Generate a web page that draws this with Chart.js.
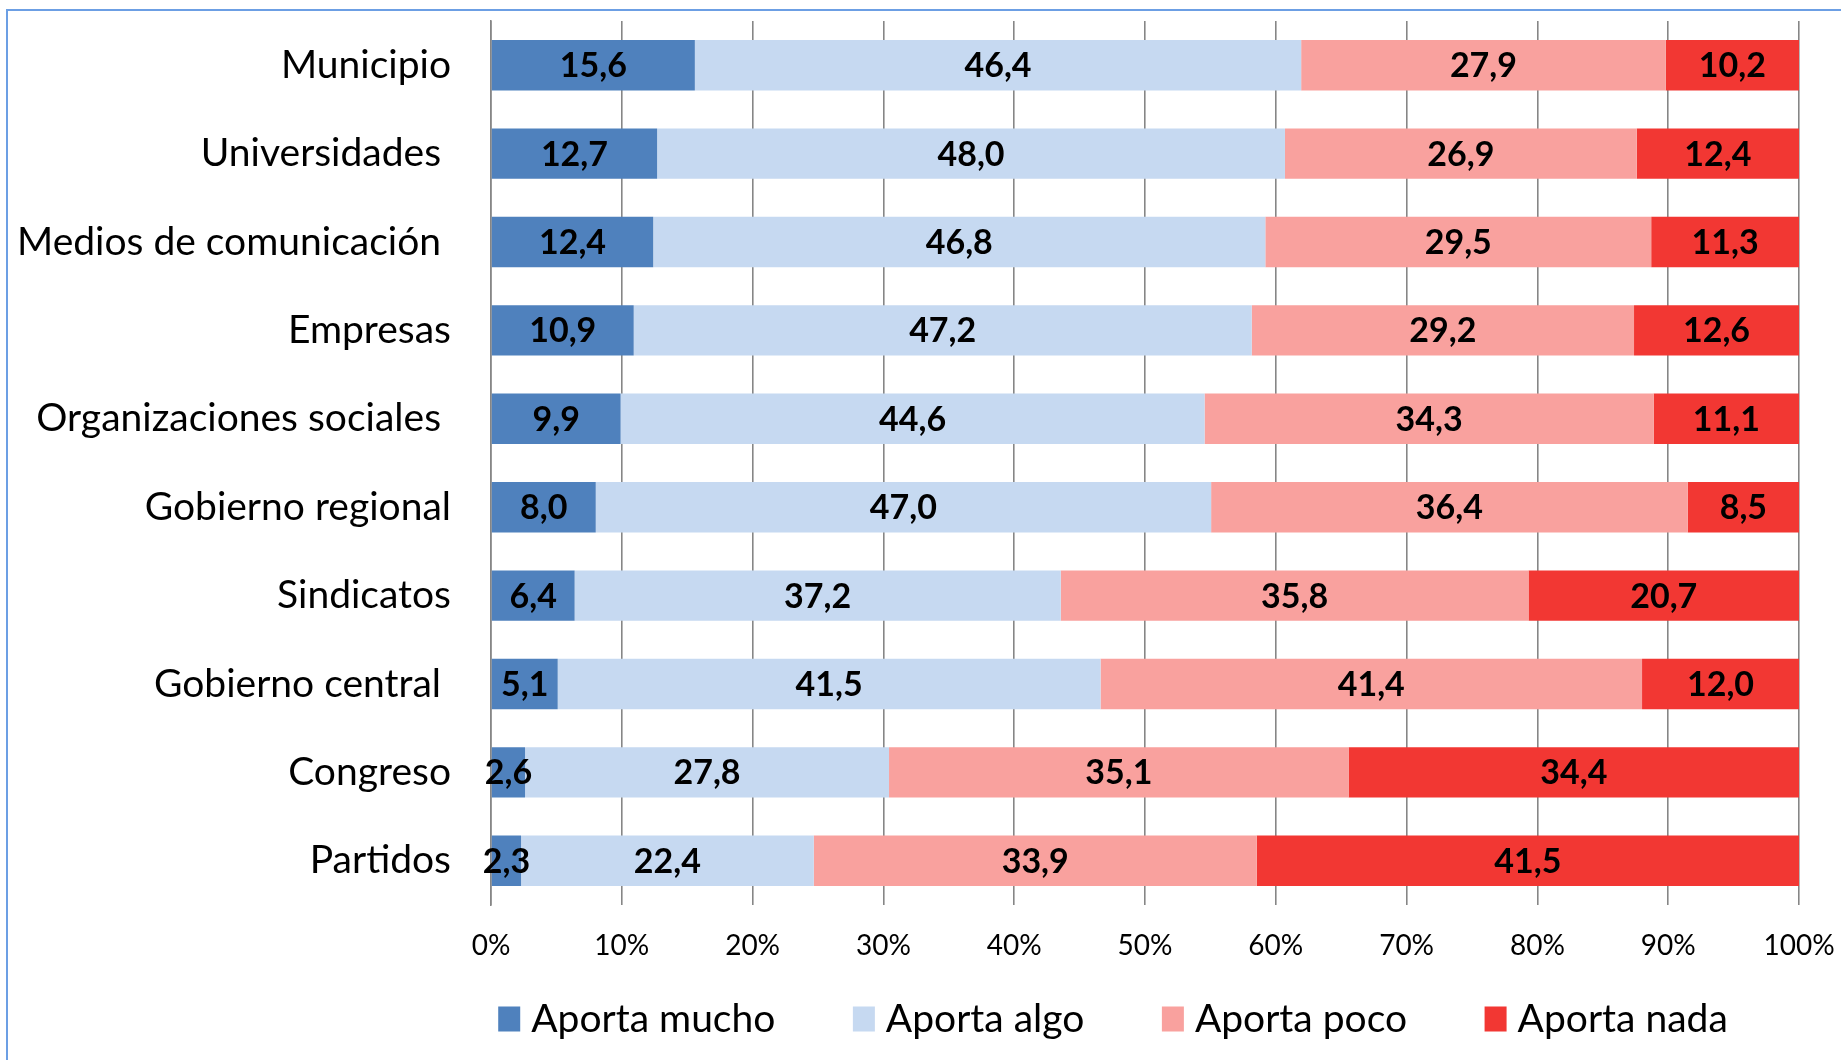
<!DOCTYPE html>
<html>
<head>
<meta charset="utf-8">
<script src="https://cdn.jsdelivr.net/npm/chart.js@4.4.1/dist/chart.umd.min.js"></script>
<style>
  html, body { margin: 0; padding: 0; background: #ffffff; }
  #wrap { position: relative; width: 1841px; height: 1060px; overflow: hidden; }
  #frame { position: absolute; left: 6px; top: 9px; width: 2000px; height: 2000px;
           border-left: 2px solid #6C9FE4; border-top: 2px solid #6C9FE4; box-sizing: border-box; }
  canvas { position: absolute; left: 0; top: 0; }
</style>
</head>
<body>
<div id="wrap">
  <div id="frame"></div>
  <canvas id="c" width="1841" height="1060"></canvas>
</div>
<script>
// ---- data ----
const categories = ['Municipio', 'Universidades ', 'Medios de comunicación ', 'Empresas',
  'Organizaciones sociales ', 'Gobierno regional', 'Sindicatos', 'Gobierno central ',
  'Congreso', 'Partidos'];
const seriesNames = ['Aporta mucho', 'Aporta algo', 'Aporta poco', 'Aporta nada'];
const aportaMucho = [15.6, 12.7, 12.4, 10.9, 9.9, 8.0, 6.4, 5.1, 2.6, 2.3];
const aportaAlgo  = [46.4, 48.0, 46.8, 47.2, 44.6, 47.0, 37.2, 41.5, 27.8, 22.4];
const aportaPoco  = [27.9, 26.9, 29.5, 29.2, 34.3, 36.4, 35.8, 41.4, 35.1, 33.9];
const aportaNada  = [10.2, 12.4, 11.3, 12.6, 11.1, 8.5, 20.7, 12.0, 34.4, 41.5];
const tickLabels  = ['0%', '10%', '20%', '30%', '40%', '50%', '60%', '70%', '80%', '90%', '100%'];

const seriesValues = [aportaMucho, aportaAlgo, aportaPoco, aportaNada];
const seriesColors = ['#4F81BD', '#C6D9F1', '#F9A19E', '#F23733'];

// 100% stacked: each row normalised to its total
const rowTotals = categories.map((_, i) => seriesValues.reduce((s, arr) => s + arr[i], 0));

const FONT = "Lato, 'Open Sans', sans-serif";

const datasets = seriesNames.map((name, k) => ({
  label: name,
  data: seriesValues[k].map((v, i) => v / rowTotals[i] * 100),
  rawValues: seriesValues[k],
  backgroundColor: seriesColors[k],
  borderWidth: 0,
  barPercentage: 0.57,
  categoryPercentage: 1.0
}));

const valueLabels = {
  id: 'valueLabels',
  afterDatasetsDraw(chart) {
    const ctx = chart.ctx;
    ctx.save();
    ctx.font = "bold 34px " + FONT;
    ctx.fillStyle = '#000000';
    ctx.textAlign = 'center';
    ctx.textBaseline = 'middle';
    chart.data.datasets.forEach((ds, di) => {
      const meta = chart.getDatasetMeta(di);
      meta.data.forEach((el, i) => {
        const p = el.getProps(['x', 'y', 'base'], true);
        const cx = (p.x + p.base) / 2;
        const txt = ds.rawValues[i].toFixed(1).replace('.', ',');
        ctx.fillText(txt, cx, p.y + 1);
      });
    });
    ctx.restore();
  }
};

// legend drawn below the axis, built from the datasets
const LEGEND = { boxW: 22, boxH: 25, gap: 11, itemGap: 77.5, centerOffset: -32, y: 1019, size: 39 };
const bottomLegend = {
  id: 'bottomLegend',
  afterDraw(chart) {
    const ctx = chart.ctx;
    const area = chart.chartArea;
    ctx.save();
    ctx.font = LEGEND.size + 'px ' + FONT;
    ctx.textBaseline = 'middle';
    ctx.textAlign = 'left';
    const items = chart.data.datasets.map(ds => ({ text: ds.label, color: ds.backgroundColor,
      w: ctx.measureText(ds.label).width }));
    const total = items.reduce((s, it) => s + LEGEND.boxW + LEGEND.gap + it.w, 0) + LEGEND.itemGap * (items.length - 1);
    let x = (area.left + area.right) / 2 + LEGEND.centerOffset - total / 2;
    items.forEach(it => {
      ctx.fillStyle = it.color;
      ctx.fillRect(x, LEGEND.y - LEGEND.boxH / 2, LEGEND.boxW, LEGEND.boxH);
      x += LEGEND.boxW + LEGEND.gap;
      ctx.fillStyle = '#000000';
      ctx.fillText(it.text, x, LEGEND.y);
      x += it.w + LEGEND.itemGap;
    });
    ctx.restore();
  }
};

function zeroPad(s) { s.paddingTop = 0; s.paddingBottom = 0; s.paddingLeft = 0; s.paddingRight = 0; }

new Chart(document.getElementById('c'), {
  type: 'bar',
  data: { labels: categories, datasets },
  plugins: [valueLabels, bottomLegend],
  options: {
    indexAxis: 'y',
    responsive: false,
    animation: false,
    devicePixelRatio: 1,
    layout: { autoPadding: false, padding: { left: 0, right: 42, top: 21, bottom: 93 } },
    scales: {
      x: {
        stacked: true,
        position: 'bottom',
        min: 0, max: 100,
        afterFit: s => { s.height = 62; zeroPad(s); },
        ticks: {
          stepSize: 10,
          autoSkip: false,
          maxRotation: 0,
          padding: 24,
          color: '#000000',
          font: { family: FONT, size: 28 },
          callback: (v, idx) => tickLabels[idx]
        },
        grid: { color: '#868686', lineWidth: 1.6, drawTicks: false },
        border: { display: false }
      },
      y: {
        stacked: true,
        afterFit: s => { s.width = 491; zeroPad(s); },
        ticks: {
          padding: 40,
          color: '#000000',
          font: { family: FONT, size: 39 }
        },
        grid: { display: false, drawTicks: false },
        border: { display: true, color: '#868686', width: 1.6 }
      }
    },
    plugins: {
      legend: { display: false },
      tooltip: { enabled: false }
    }
  }
});
</script>
</body>
</html>
